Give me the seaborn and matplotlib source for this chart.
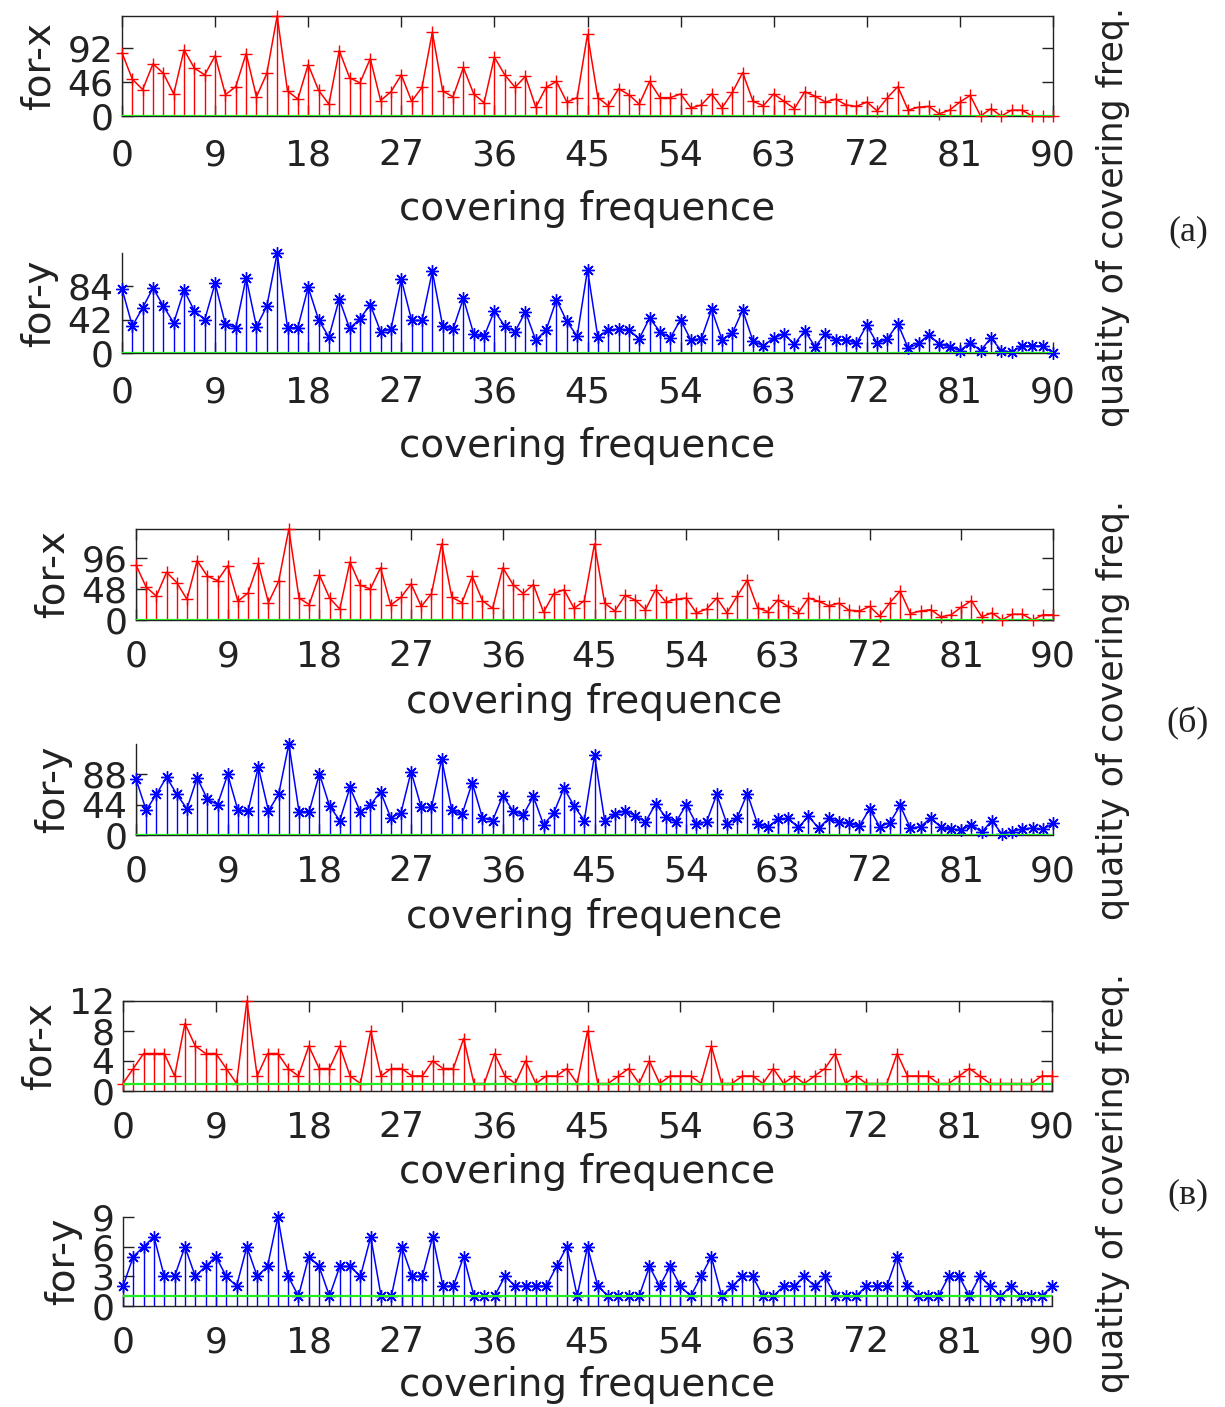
import matplotlib
matplotlib.use('Agg')
import matplotlib.pyplot as plt
import seaborn as sns

# covering frequence axis
freq = list(range(91))
xticks = [0, 9, 18, 27, 36, 45, 54, 63, 72, 81, 90]

# (a)
for_x_a = [86, 50, 36, 71, 58, 30, 90, 65, 56, 82,
           29, 40, 85, 26, 58, 136, 34, 23, 70, 35,
           16, 89, 52, 45, 78, 21, 33, 56, 20, 39,
           114, 34, 26, 66, 30, 18, 80, 56, 39, 54,
           12, 39, 47, 19, 25, 111, 25, 14, 37, 29,
           16, 47, 25, 25, 30, 11, 15, 30, 11, 32,
           59, 20, 14, 30, 20, 10, 33, 27, 19, 23,
           15, 13, 19, 7, 25, 40, 8, 12, 13, 3,
           8, 19, 28, 0, 10, 0, 8, 8, 0, 0, 0]
for_y_a = [81, 34, 57, 82, 59, 38, 79, 53, 42, 88,
           36, 32, 95, 33, 59, 126, 32, 32, 83, 42,
           20, 68, 31, 43, 61, 27, 30, 93, 41, 41,
           103, 34, 30, 69, 24, 21, 53, 34, 27, 52,
           16, 29, 67, 40, 21, 105, 20, 29, 30, 29,
           18, 44, 27, 19, 42, 16, 18, 55, 17, 25,
           54, 15, 9, 19, 24, 11, 28, 8, 24, 16,
           17, 12, 35, 12, 18, 37, 6, 12, 23, 11,
           8, 3, 13, 3, 19, 3, 1, 9, 9, 9, 0]

# (б)
for_x_b = [85, 51, 37, 74, 58, 32, 92, 68, 61, 84,
           29, 42, 88, 27, 60, 141, 34, 24, 70, 34,
           17, 90, 54, 48, 81, 23, 35, 56, 21, 41,
           118, 35, 27, 68, 30, 18, 81, 55, 41, 55,
           12, 41, 47, 18, 30, 118, 26, 14, 38, 31,
           16, 47, 28, 32, 34, 11, 17, 34, 11, 37,
           62, 19, 13, 31, 21, 11, 34, 29, 22, 26,
           15, 14, 21, 6, 27, 45, 10, 14, 16, 5,
           8, 20, 30, 5, 11, 0, 9, 9, 0, 8, 8]
for_y_b = [81, 36, 59, 84, 59, 38, 83, 52, 44, 88,
           36, 35, 99, 35, 59, 132, 34, 34, 89, 42,
           21, 69, 34, 43, 63, 25, 32, 92, 40, 40,
           110, 36, 30, 76, 25, 21, 57, 35, 29, 56,
           15, 32, 68, 42, 21, 116, 21, 31, 35, 28,
           19, 45, 26, 19, 44, 16, 19, 59, 16, 25,
           60, 16, 11, 23, 24, 11, 27, 10, 24, 19,
           17, 13, 38, 12, 18, 43, 10, 12, 25, 11,
           9, 7, 15, 4, 21, 1, 5, 9, 10, 8, 17]

# (в)
for_x_c = [1, 3, 5, 5, 5, 2, 9, 6, 5, 5,
           3, 1, 12, 2, 5, 5, 3, 2, 6, 3,
           3, 6, 2, 1, 8, 2, 3, 3, 2, 2,
           4, 3, 3, 7, 1, 1, 5, 2, 1, 4,
           1, 2, 2, 3, 1, 8, 1, 1, 2, 3,
           1, 4, 1, 2, 2, 2, 1, 6, 1, 1,
           2, 2, 1, 3, 1, 2, 1, 2, 3, 5,
           1, 2, 1, 1, 1, 5, 2, 2, 2, 1,
           1, 2, 3, 2, 1, 1, 1, 1, 1, 2, 2]
for_y_c = [2, 5, 6, 7, 3, 3, 6, 3, 4, 5,
           3, 2, 6, 3, 4, 9, 3, 1, 5, 4,
           1, 4, 4, 3, 7, 1, 1, 6, 3, 3,
           7, 2, 2, 5, 1, 1, 1, 3, 2, 2,
           2, 2, 4, 6, 1, 6, 2, 1, 1, 1,
           1, 4, 2, 4, 2, 1, 3, 5, 1, 2,
           3, 3, 1, 1, 2, 2, 3, 2, 3, 1,
           1, 1, 2, 2, 2, 5, 2, 1, 1, 1,
           3, 3, 1, 3, 2, 1, 2, 1, 1, 1, 2]

yticks_x_a = [0, 46, 92]
yticks_y_a = [0, 42, 84]
yticks_x_b = [0, 48, 96]
yticks_y_b = [0, 44, 88]
yticks_x_c = [0, 4, 8, 12]
yticks_y_c = [0, 3, 6, 9]

# green reference line level
base_ab = 0
base_c = 1

sns.set_style('ticks')
plt.rcParams['font.family'] = ['DejaVu Sans']

W, H = 1225, 1407
fig = plt.figure(figsize=(W / 100, H / 100), dpi=100)

ASTERISK = (8, 2, 0)  # matlab-like '*'


def add_ax(left, top, right, bottom):
    return fig.add_axes([left / W, 1 - bottom / H, (right - left) / W, (bottom - top) / H])


def draw_panel(ax, vals, color, marker, base, yticks, ylabel, boxed, xpad=16, lpad=13):
    ax.vlines(freq, 0, vals, color=color, linewidth=1, zorder=2)
    sns.lineplot(x=freq, y=vals, ax=ax, color=color, marker=marker, markersize=9,
                 markeredgecolor=color, markeredgewidth=1, linewidth=1.1,
                 clip_on=False, zorder=3)
    ax.axhline(base, color='#22ee22', linewidth=1.6, zorder=4)
    ax.set_xlim(0, 90)
    ax.set_ylim(0, max(vals))
    ax.set_xticks(xticks)
    ax.set_yticks(yticks)
    ax.tick_params(axis='both', direction='in', length=8, width=1, labelsize=26,
                   colors='#222222')
    ax.tick_params(axis='x', pad=xpad)
    ax.tick_params(axis='y', pad=6)
    for s in ax.spines.values():
        s.set_linewidth(1)
        s.set_color('#222222')
    if boxed:
        ax.tick_params(top=True, right=True, labeltop=False, labelright=False)
    else:
        ax.spines['top'].set_visible(False)
        ax.spines['right'].set_visible(False)
    ax.set_xlabel('covering frequence', fontsize=28, labelpad=lpad, color='#222222')
    ax.set_ylabel(ylabel, fontsize=28, labelpad=7, color='#222222')
    ax.set_facecolor('white')


ax1 = add_ax(122, 16, 1053, 116)
draw_panel(ax1, for_x_a, 'red', '+', base_ab, yticks_x_a, 'for-x', True)
ax2 = add_ax(122, 253, 1053, 353)
draw_panel(ax2, for_y_a, 'blue', ASTERISK, base_ab, yticks_y_a, 'for-y', False)
ax3 = add_ax(136, 529, 1053, 620)
draw_panel(ax3, for_x_b, 'red', '+', base_ab, yticks_x_b, 'for-x', True, xpad=14, lpad=7)
ax4 = add_ax(136, 744, 1053, 835)
draw_panel(ax4, for_y_b, 'blue', ASTERISK, base_ab, yticks_y_b, 'for-y', False, xpad=14, lpad=7)
ax5 = add_ax(123, 1001, 1052, 1091)
draw_panel(ax5, for_x_c, 'red', '+', base_c, yticks_x_c, 'for-x', True, xpad=14, lpad=6)
ax6 = add_ax(123, 1217, 1052, 1306)
draw_panel(ax6, for_y_c, 'blue', ASTERISK, base_c, yticks_y_c, 'for-y', False, xpad=14, lpad=5)

side = 'quatity of covering freq.'
for yc, tag, yt in [(217, '(a)', 232), (710, '(б)', 722), (1183, '(в)', 1195)]:
    fig.text(1113 / W, 1 - yc / H, side, rotation=90, ha='center', va='center',
             fontsize=25, color='#222222')
    fig.text(1188 / W, 1 - yt / H, tag, ha='center', va='center', fontsize=26,
             family=['Liberation Serif', 'DejaVu Serif'], color='#222222')

fig.savefig('out.png', dpi=100, facecolor='white')
